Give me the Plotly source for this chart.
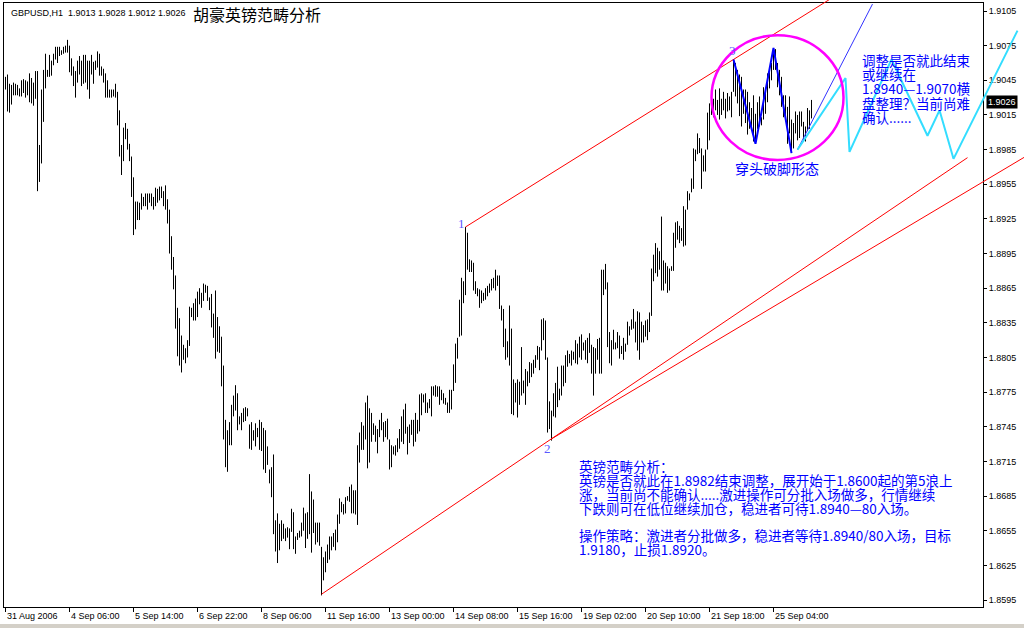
import plotly.graph_objects as go

W, H = 1024, 628

# ---------------- data (hourly bars, high / low) ----------------
HIGH = [1.9048, 1.9050, 1.9042, 1.9041, 1.9043, 1.9042, 1.9041, 1.9038, 1.9045, 1.9046,
        1.9045, 1.9044, 1.9051, 1.9047, 1.9043, 1.9053, 1.9053, 1.8989, 1.9037, 1.9054,
        1.9068, 1.9054, 1.9067, 1.9062, 1.9068, 1.9074, 1.9074, 1.9074, 1.9071, 1.9074,
        1.9075, 1.9080, 1.9075, 1.9064, 1.9057, 1.9053, 1.9062, 1.9066, 1.9062, 1.9067,
        1.9067, 1.9062, 1.9062, 1.9067, 1.9061, 1.9062, 1.9070, 1.9068, 1.9057, 1.9055,
        1.9051, 1.9045, 1.9037, 1.9037, 1.9037, 1.9042, 1.9035, 1.9019, 1.8989, 1.9004,
        1.9008, 1.9003, 1.8990, 1.8979, 1.8961, 1.8940, 1.8940, 1.8939, 1.8947, 1.8944,
        1.8947, 1.8947, 1.8947, 1.8947, 1.8944, 1.8952, 1.8951, 1.8953, 1.8953, 1.8949,
        1.8954, 1.8942, 1.8933, 1.8910, 1.8892, 1.8876, 1.8848, 1.8839, 1.8824, 1.8816,
        1.8813, 1.8820, 1.8849, 1.8848, 1.8852, 1.8856, 1.8862, 1.8865, 1.8861, 1.8869,
        1.8868, 1.8867, 1.8857, 1.8860, 1.8843, 1.8863, 1.8840, 1.8832, 1.8823, 1.8798,
        1.8751, 1.8742, 1.8749, 1.8764, 1.8772, 1.8781, 1.8774, 1.8754, 1.8757, 1.8761,
        1.8762, 1.8761, 1.8747, 1.8749, 1.8742, 1.8748, 1.8744, 1.8751, 1.8749, 1.8744,
        1.8742, 1.8728, 1.8708, 1.8710, 1.8721, 1.8664, 1.8670, 1.8661, 1.8664, 1.8661,
        1.8657, 1.8658, 1.8657, 1.8674, 1.8671, 1.8650, 1.8653, 1.8655, 1.8662, 1.8675,
        1.8670, 1.8671, 1.8704, 1.8689, 1.8682, 1.8662, 1.8662, 1.8662, 1.8641, 1.8632,
        1.8637, 1.8643, 1.8650, 1.8650, 1.8653, 1.8656, 1.8669, 1.8683, 1.8680, 1.8678,
        1.8684, 1.8685, 1.8693, 1.8695, 1.8690, 1.8690, 1.8729, 1.8740, 1.8749, 1.8746,
        1.8766, 1.8772, 1.8761, 1.8757, 1.8748, 1.8746, 1.8743, 1.8751, 1.8757, 1.8749,
        1.8750, 1.8752, 1.8734, 1.8729, 1.8728, 1.8729, 1.8735, 1.8743, 1.8754, 1.8760,
        1.8765, 1.8745, 1.8747, 1.8751, 1.8751, 1.8757, 1.8751, 1.8773, 1.8774, 1.8773,
        1.8774, 1.8766, 1.8769, 1.8780, 1.8780, 1.8781, 1.8780, 1.8780, 1.8777, 1.8774,
        1.8770, 1.8766, 1.8777, 1.8777, 1.8799, 1.8817, 1.8822, 1.8855, 1.8874, 1.8871,
        1.8918, 1.8913, 1.8890, 1.8889, 1.8887, 1.8871, 1.8865, 1.8864, 1.8863, 1.8861,
        1.8865, 1.8867, 1.8869, 1.8873, 1.8874, 1.8881, 1.8876, 1.8876, 1.8850, 1.8847,
        1.8830, 1.8819, 1.8850, 1.8830, 1.8786, 1.8783, 1.8786, 1.8784, 1.8814, 1.8785,
        1.8795, 1.8793, 1.8801, 1.8800, 1.8803, 1.8807, 1.8815, 1.8814, 1.8838, 1.8839,
        1.8837, 1.8805, 1.8767, 1.8759, 1.8774, 1.8783, 1.8797, 1.8778, 1.8798, 1.8798,
        1.8807, 1.8811, 1.8808, 1.8811, 1.8810, 1.8820, 1.8817, 1.8823, 1.8825, 1.8818,
        1.8820, 1.8822, 1.8826, 1.8816, 1.8814, 1.8813, 1.8821, 1.8822, 1.8881, 1.8881,
        1.8886, 1.8870, 1.8827, 1.8820, 1.8829, 1.8818, 1.8827, 1.8824, 1.8815, 1.8822,
        1.8817, 1.8836, 1.8832, 1.8838, 1.8847, 1.8836, 1.8845, 1.8844, 1.8836, 1.8833,
        1.8837, 1.8838, 1.8844, 1.8882, 1.8894, 1.8904, 1.8900, 1.8897, 1.8927, 1.8889,
        1.8887, 1.8884, 1.8882, 1.8884, 1.8913, 1.8922, 1.8923, 1.8919, 1.8917, 1.8936,
        1.8933, 1.8949, 1.8947, 1.8960, 1.8986, 1.8985, 1.8999, 1.8995, 1.8986, 1.8980,
        1.8985, 1.9017, 1.9025, 1.9036, 1.9029, 1.9037, 1.9028, 1.9038, 1.9029, 1.9035,
        1.9029, 1.9034, 1.9031, 1.9035, 1.9063, 1.9060, 1.9054, 1.9050, 1.9048, 1.9037,
        1.9037, 1.9035, 1.9026, 1.9021, 1.9032, 1.9016, 1.9026, 1.9031, 1.9013, 1.9039,
        1.9035, 1.9051, 1.9052, 1.9060, 1.9073, 1.9072, 1.9060, 1.9054, 1.9048, 1.9032,
        1.9032, 1.9022, 1.9031, 1.9011, 1.9008, 1.9018, 1.9015, 1.9018, 1.9018, 1.9009,
        1.9005, 1.9021, 1.9019, 1.9028]

LOW = [1.9037, 1.9018, 1.9017, 1.9024, 1.9032, 1.9032, 1.9032, 1.9031, 1.9031, 1.9034,
       1.9030, 1.9032, 1.9026, 1.9025, 1.9023, 1.9029, 1.8949, 1.8957, 1.8973, 1.9009,
       1.9038, 1.9048, 1.9048, 1.9049, 1.9058, 1.9063, 1.9060, 1.9066, 1.9067, 1.9068,
       1.9069, 1.9069, 1.9052, 1.9049, 1.9040, 1.9030, 1.9043, 1.9050, 1.9040, 1.9042,
       1.9043, 1.9037, 1.9029, 1.9050, 1.9042, 1.9054, 1.9056, 1.9049, 1.9049, 1.9043,
       1.9030, 1.9030, 1.9030, 1.9030, 1.9031, 1.9030, 1.9006, 1.8979, 1.8963, 1.8975,
       1.8994, 1.8985, 1.8975, 1.8944, 1.8911, 1.8916, 1.8924, 1.8924, 1.8933, 1.8936,
       1.8936, 1.8933, 1.8939, 1.8936, 1.8933, 1.8936, 1.8939, 1.8941, 1.8943, 1.8936,
       1.8933, 1.8921, 1.8895, 1.8881, 1.8864, 1.8830, 1.8806, 1.8798, 1.8792, 1.8803,
       1.8800, 1.8805, 1.8815, 1.8840, 1.8837, 1.8837, 1.8840, 1.8851, 1.8848, 1.8854,
       1.8861, 1.8854, 1.8846, 1.8831, 1.8822, 1.8804, 1.8810, 1.8809, 1.8780, 1.8734,
       1.8710, 1.8706, 1.8729, 1.8729, 1.8754, 1.8759, 1.8742, 1.8747, 1.8742, 1.8749,
       1.8750, 1.8754, 1.8726, 1.8725, 1.8733, 1.8728, 1.8736, 1.8725, 1.8724, 1.8708,
       1.8705, 1.8712, 1.8696, 1.8684, 1.8652, 1.8637, 1.8627, 1.8638, 1.8646, 1.8648,
       1.8646, 1.8649, 1.8639, 1.8654, 1.8639, 1.8635, 1.8647, 1.8649, 1.8650, 1.8655,
       1.8640, 1.8648, 1.8652, 1.8636, 1.8653, 1.8643, 1.8645, 1.8642, 1.8599, 1.8612,
       1.8619, 1.8627, 1.8630, 1.8638, 1.8641, 1.8638, 1.8645, 1.8661, 1.8671, 1.8669,
       1.8670, 1.8681, 1.8680, 1.8670, 1.8670, 1.8669, 1.8660, 1.8714, 1.8725, 1.8725,
       1.8734, 1.8709, 1.8714, 1.8732, 1.8738, 1.8732, 1.8722, 1.8736, 1.8742, 1.8732,
       1.8736, 1.8734, 1.8708, 1.8710, 1.8721, 1.8720, 1.8723, 1.8726, 1.8732, 1.8730,
       1.8739, 1.8721, 1.8731, 1.8738, 1.8728, 1.8732, 1.8739, 1.8741, 1.8755, 1.8766,
       1.8757, 1.8757, 1.8761, 1.8754, 1.8772, 1.8771, 1.8771, 1.8764, 1.8768, 1.8765,
       1.8764, 1.8757, 1.8757, 1.8760, 1.8776, 1.8783, 1.8804, 1.8823, 1.8824, 1.8852,
       1.8859, 1.8881, 1.8879, 1.8879, 1.8863, 1.8860, 1.8858, 1.8848, 1.8852, 1.8854,
       1.8855, 1.8858, 1.8861, 1.8863, 1.8865, 1.8863, 1.8867, 1.8847, 1.8837, 1.8814,
       1.8803, 1.8805, 1.8798, 1.8756, 1.8755, 1.8766, 1.8753, 1.8764, 1.8772, 1.8774,
       1.8764, 1.8780, 1.8783, 1.8788, 1.8791, 1.8796, 1.8803, 1.8794, 1.8811, 1.8820,
       1.8803, 1.8740, 1.8743, 1.8733, 1.8754, 1.8753, 1.8762, 1.8768, 1.8772, 1.8780,
       1.8783, 1.8797, 1.8800, 1.8798, 1.8803, 1.8800, 1.8799, 1.8805, 1.8803, 1.8811,
       1.8803, 1.8800, 1.8809, 1.8791, 1.8772, 1.8791, 1.8803, 1.8791, 1.8791, 1.8859,
       1.8864, 1.8814, 1.8800, 1.8798, 1.8812, 1.8812, 1.8813, 1.8804, 1.8808, 1.8803,
       1.8810, 1.8816, 1.8824, 1.8829, 1.8830, 1.8818, 1.8811, 1.8803, 1.8818, 1.8818,
       1.8823, 1.8820, 1.8827, 1.8841, 1.8871, 1.8878, 1.8875, 1.8881, 1.8863, 1.8863,
       1.8869, 1.8861, 1.8863, 1.8880, 1.8880, 1.8900, 1.8907, 1.8904, 1.8906, 1.8901,
       1.8902, 1.8933, 1.8941, 1.8948, 1.8951, 1.8975, 1.8981, 1.8982, 1.8951, 1.8966,
       1.8966, 1.8985, 1.8993, 1.9015, 1.9013, 1.9019, 1.9015, 1.9011, 1.9015, 1.9019,
       1.9012, 1.9018, 1.9019, 1.9013, 1.9035, 1.9031, 1.9025, 1.9014, 1.9005, 1.9016,
       1.9008, 1.8998, 1.9003, 1.9002, 1.8992, 1.8990, 1.9003, 1.9005, 1.9006, 1.9011,
       1.9016, 1.9026, 1.9038, 1.9045, 1.9054, 1.9054, 1.9039, 1.9032, 1.9022, 1.9013,
       1.9011, 1.8990, 1.8999, 1.8982, 1.8986, 1.8999, 1.8993, 1.8995, 1.9005, 1.8992,
       1.8992, 1.9001, 1.9003, 1.9012]

TIME_TICK_BARS = [0, 32, 64, 96, 128, 160, 192, 224, 256, 288, 320, 352, 384]
TIME_TICK_TEXT = ["31 Aug 2006", "4 Sep 06:00", "5 Sep 14:00", "6 Sep 22:00",
                  "8 Sep 06:00", "11 Sep 16:00", "13 Sep 00:00", "14 Sep 08:00",
                  "15 Sep 16:00", "19 Sep 02:00", "20 Sep 10:00", "21 Sep 18:00",
                  "25 Sep 04:00"]
PRICE_TICKS = [1.8595, 1.8625, 1.8655, 1.8685, 1.8715, 1.8745, 1.8775, 1.8805, 1.8835,
               1.8865, 1.8895, 1.8925, 1.8955, 1.8985, 1.9015, 1.9045, 1.9075, 1.9105]
LAST_PRICE = 1.9026
HEADER = "GBPUSD,H1\u00a0\u00a01.9013 1.9028 1.9012 1.9026"

# hand-drawn analysis objects (bar index, price)
UPPER_LINE_X, UPPER_LINE_Y = [230, 412], [1.8918, 1.9115]
LOWER_A_X, LOWER_A_Y = [158, 481], [1.8600, 1.8978]
LOWER_B_X, LOWER_B_Y = [272.5, 510], [1.8734, 1.8979]
ZIGZAG_X, ZIGZAG_Y = [364, 375, 384, 393], [1.9063, 1.8990, 1.9073, 1.8982]
RAY_X, RAY_Y = [396, 433.5], [1.8985, 1.9111]
PROJ_X = [396, 420, 422, 443, 461, 467, 474, 506]
PROJ_Y = [1.8985, 1.9047, 1.8983, 1.9063, 1.8997, 1.9019, 1.8977, 1.9088]
CIRCLE_X, CIRCLE_Y = [353, 419], [1.8976, 1.9084]
WAVE_LABELS = [("1", 230, 1.8918, -4, 3), ("2", 272, 1.8733, -2, -8), ("3", 364, 1.9063, -1, 9)]

BOX1 = ["调整是否就此结束", "或继续在", "1.8940—1.9070横", "盘整理？当前尚难", "确认......"]
BOX2 = ["英镑范畴分析：",
        "英镑是否就此在1.8982结束调整，展开始于1.8600起的第5浪上",
        "涨，当前尚不能确认.....激进操作可分批入场做多，行情继续",
        "下跌则可在低位继续加仓，稳进者可待1.8940—80入场。",
        "",
        "操作策略：激进者分批做多，稳进者等待1.8940/80入场，目标",
        "1.9180，止损1.8920。"]
PATTERN = "穿头破脚形态"
TITLE = "胡豪英镑范畴分析"

# ---------------- pixel geometry of the chart window ----------------
PLOT_L, PLOT_R, PLOT_T, PLOT_B = 4, 983, 3, 607
BAR_PX = 2.0          # pixels per bar
BAR0_PX = 5.5         # centre of first bar
PX_PER_PRICE = 11549  # vertical scale
REF_PRICE, REF_PY = 1.9105, 11


def bar_at(px):
    return (px - BAR0_PX) / BAR_PX


def price_at(py):
    return REF_PRICE - (py - REF_PY) / PX_PER_PRICE


def fx(px):
    return px / W


def fy(py):
    return 1 - py / H


CJK = "Noto Sans CJK SC"
SANS = "Liberation Sans"
BLUE = "#0000FF"
SMALL = 9

fig = go.Figure()

# bars as vertical high-low lines
bx, by = [], []
for i, (h, l) in enumerate(zip(HIGH, LOW)):
    bx += [i, i, None]
    by += [l, h, None]
fig.add_trace(go.Scatter(x=bx, y=by, mode="lines", line=dict(color="black", width=1),
                         hoverinfo="skip", showlegend=False))


# overlay objects on the full-window axes
def overlay(xs, ys, color, width):
    fig.add_trace(go.Scatter(x=xs, y=ys, mode="lines", xaxis="x2", yaxis="y2",
                             line=dict(color=color, width=width),
                             hoverinfo="skip", showlegend=False))


overlay(UPPER_LINE_X, UPPER_LINE_Y, "#FF0000", 1)
overlay(LOWER_A_X, LOWER_A_Y, "#FF0000", 1)
overlay(LOWER_B_X, LOWER_B_Y, "#FF0000", 1)
overlay(ZIGZAG_X, ZIGZAG_Y, "#0000FF", 2)
overlay(RAY_X, RAY_Y, "#3333FF", 1)
overlay(PROJ_X, PROJ_Y, "#33DDFF", 2)

shapes = [
    dict(type="circle", xref="x2", yref="y2", x0=CIRCLE_X[0], x1=CIRCLE_X[1],
         y0=CIRCLE_Y[0], y1=CIRCLE_Y[1], line=dict(color="#FF00FF", width=2.5)),
    dict(type="rect", xref="paper", yref="paper", x0=0, x1=1, y0=0, y1=fy(624),
         fillcolor="#D4D0C8", line=dict(width=0)),
]

ann = []
# header
ann.append(dict(text=HEADER, x=fx(9), y=fy(13), xref="paper", yref="paper",
                xanchor="left", yanchor="middle", showarrow=False,
                font=dict(family=SANS, size=SMALL, color="black")))
ann.append(dict(text=TITLE, x=fx(191), y=fy(14), xref="paper", yref="paper",
                xanchor="left", yanchor="middle", showarrow=False,
                font=dict(family=CJK, size=16, color="black")))
# time labels
for b, t in zip(TIME_TICK_BARS, TIME_TICK_TEXT):
    ann.append(dict(text=t, x=b, y=fy(616), xref="x", yref="paper", xanchor="left",
                    yanchor="middle", showarrow=False, xshift=-1,
                    font=dict(family=SANS, size=SMALL, color="black")))
# last price tag
ann.append(dict(text=f"{LAST_PRICE:.4f}", x=fx(986), y=LAST_PRICE, xref="paper", yref="y",
                xanchor="left", yanchor="middle", showarrow=False, bgcolor="black",
                borderpad=1, font=dict(family=SANS, size=SMALL, color="white")))
# wave labels
for t, b, p, dx, dy in WAVE_LABELS:
    ann.append(dict(text=t, x=b, y=p, xref="x", yref="y", xshift=dx, yshift=dy,
                    showarrow=False, font=dict(family="Liberation Serif", size=13, color="#5A5AFF")))
# text blocks
for k, line in enumerate(BOX1):
    ann.append(dict(text=line, x=fx(860), y=fy(60 + 14.2 * k), xref="paper", yref="paper",
                    xanchor="left", yanchor="middle", showarrow=False,
                    font=dict(family=CJK, size=13.5, color=BLUE)))
for k, line in enumerate(BOX2):
    if not line:
        continue
    ann.append(dict(text=line, x=fx(577), y=fy(465.5 + 14.2 * k - (1.5 if k > 4 else 0)),
                    xref="paper", yref="paper", xanchor="left", yanchor="middle",
                    showarrow=False, font=dict(family=CJK, size=13.5, color=BLUE)))
ann.append(dict(text=PATTERN, x=fx(733), y=fy(168), xref="paper", yref="paper",
                xanchor="left", yanchor="middle", showarrow=False,
                font=dict(family=CJK, size=14, color=BLUE)))

fig.update_layout(
    width=W, height=H, margin=dict(l=0, r=0, t=0, b=0, autoexpand=False),
    paper_bgcolor="white", plot_bgcolor="rgba(0,0,0,0)",
    showlegend=False, hovermode=False,
    xaxis=dict(domain=[fx(PLOT_L), fx(PLOT_R)], range=[bar_at(PLOT_L), bar_at(PLOT_R)],
               showgrid=False, zeroline=False, showline=True, linecolor="black",
               linewidth=1, mirror=True, ticks="outside", ticklen=4, tickcolor="black",
               tickvals=TIME_TICK_BARS, showticklabels=False, fixedrange=True),
    yaxis=dict(domain=[fy(PLOT_B), fy(PLOT_T)], range=[price_at(PLOT_B), price_at(PLOT_T)],
               side="right", showgrid=False, zeroline=False, showline=True,
               linecolor="black", linewidth=1, mirror=True, ticks="outside", ticklen=3,
               tickcolor="black", tickvals=PRICE_TICKS,
               ticktext=[f"{p:.4f}" for p in PRICE_TICKS],
               tickfont=dict(family=SANS, size=SMALL, color="black"), fixedrange=True),
    xaxis2=dict(domain=[0, 1], range=[bar_at(0), bar_at(W)], anchor="y2",
                visible=False, fixedrange=True),
    yaxis2=dict(domain=[0, 1], range=[price_at(H), price_at(0)], anchor="x2",
                visible=False, fixedrange=True),
    shapes=shapes, annotations=ann,
)

fig.write_html("out.html", config={"displayModeBar": False},
               post_script="document.body.style.margin='0';")
